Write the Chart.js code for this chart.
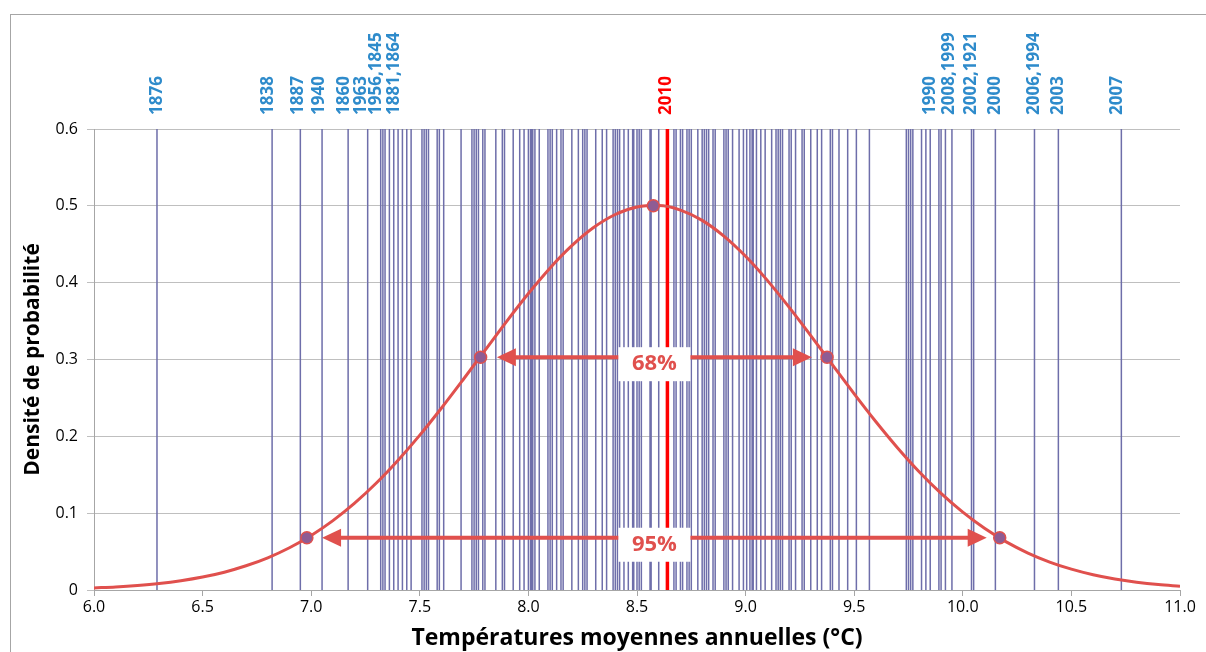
<!DOCTYPE html>
<html>
<head>
<meta charset="utf-8">
<script src="https://cdn.jsdelivr.net/npm/chart.js@4.4.1/dist/chart.umd.min.js"></script>
<style>
  html, body { margin: 0; padding: 0; background: #fff; }
  #wrap { width: 1206px; height: 652px; }
</style>
</head>
<body>
<div id="wrap"><canvas id="myChart" width="1206" height="652"></canvas></div>
<script>
// annual mean temperatures (one vertical line per year)
var yearTemps = [
  6.29, 6.82, 6.95, 7.05, 7.17, 7.26,
  7.32, 7.33, 7.34, 7.36, 7.38, 7.40, 7.42, 7.44, 7.46, 7.51, 7.52, 7.53, 7.54,
  7.58, 7.59, 7.61, 7.69,
  7.74, 7.75, 7.76, 7.77, 7.79, 7.80, 7.85, 7.88, 7.89, 7.93, 7.96, 7.98, 8.00,
  8.01, 8.015, 8.02, 8.03, 8.05, 8.09, 8.10, 8.11, 8.13, 8.15, 8.16, 8.20, 8.23,
  8.25, 8.26, 8.27, 8.31, 8.34, 8.36, 8.39, 8.40, 8.41, 8.42, 8.44, 8.46, 8.48,
  8.485, 8.50, 8.51, 8.52, 8.56, 8.565, 8.60, 8.67, 8.68, 8.70, 8.71, 8.73, 8.74,
  8.75, 8.78, 8.80, 8.81, 8.82, 8.83, 8.85, 8.86, 8.90, 8.91, 8.92, 8.94, 8.97,
  8.99, 9.005, 9.02, 9.03, 9.035, 9.05, 9.07, 9.09, 9.12, 9.14, 9.15, 9.16, 9.17,
  9.20, 9.21, 9.23, 9.26, 9.27, 9.30, 9.33, 9.35, 9.39, 9.40, 9.43, 9.47, 9.51,
  9.57, 9.74, 9.75, 9.76, 9.77, 9.81, 9.83, 9.85, 9.89, 9.90, 9.92, 9.95, 10.04,
  10.05, 10.15, 10.33, 10.44, 10.73
];
var temp2010 = 8.64;

// year labels at the top
var yearLabels = ['1876', '1838', '1887', '1940', '1860', '1963', '1956,1845', '1881,1864',
  '2010', '1990', '2008,1999', '2002,1921', '2000', '2006,1994', '2003', '2007'];
var yearLabelX = [6.29, 6.80, 6.94, 7.035, 7.15, 7.23, 7.30, 7.38,
  8.635, 9.85, 9.935, 10.04, 10.15, 10.33, 10.44, 10.71];

// normal density curve
var curveX = [6.0, 6.1, 6.2, 6.3, 6.4, 6.5, 6.6, 6.7, 6.8, 6.9, 7.0, 7.1, 7.2, 7.3, 7.4,
  7.5, 7.6, 7.7, 7.8, 7.9, 8.0, 8.1, 8.2, 8.3, 8.4, 8.5, 8.6, 8.7, 8.8, 8.9, 9.0,
  9.1, 9.2, 9.3, 9.4, 9.5, 9.6, 9.7, 9.8, 9.9, 10.0, 10.1, 10.2, 10.3, 10.4, 10.5,
  10.6, 10.7, 10.8, 10.9, 11.0];
var curveY = [0.0027, 0.0040, 0.0059, 0.0085, 0.0121, 0.0169, 0.0232, 0.0315, 0.0419,
  0.0550, 0.0710, 0.0903, 0.1130, 0.1392, 0.1689, 0.2016, 0.2369, 0.2740, 0.3119,
  0.3497, 0.3859, 0.4192, 0.4481, 0.4717, 0.4887, 0.4984, 0.5003, 0.4945, 0.4811,
  0.4606, 0.4343, 0.4030, 0.3681, 0.3310, 0.2930, 0.2553, 0.2190, 0.1849, 0.1536,
  0.1257, 0.1013, 0.0803, 0.0626, 0.0481, 0.0364, 0.0271, 0.0198, 0.0143, 0.0102,
  0.0071, 0.0049];

// mean, mean +/- 1 sd, mean +/- 2 sd
var markX = [6.98, 7.78, 8.575, 9.375, 10.17];
var markY = [0.068, 0.303, 0.500, 0.303, 0.068];

// arrows (68% and 95% intervals)
var arrowText = ['68%', '95%'];
var arrowY = [0.303, 0.068];
var arrowFrom = [7.855, 7.05];
var arrowTo = [9.305, 10.11];

var red = '#E0504D';
var blue = '#2E8BCB';

var lineData = [];
yearTemps.forEach(function(t) {
    lineData.push({x: t, y: 0}, {x: t, y: 0.6}, {x: t, y: null});
});

var curveData = curveX.map(function(x, i) { return {x: x, y: curveY[i]}; });
var markData = markX.map(function(x, i) { return {x: x, y: markY[i]}; });

var frame = {
    id: 'frame',
    beforeDraw: function(chart) {
        var ctx = chart.ctx;
        ctx.save();
        ctx.fillStyle = '#fff';
        ctx.fillRect(0, 0, chart.width, chart.height);
        ctx.strokeStyle = '#a6a6a6';
        ctx.lineWidth = 1;
        ctx.strokeRect(10.5, 14.5, 1400, 700);
        ctx.restore();
    }
};

var extras = {
    id: 'extras',
    afterDatasetsDraw: function(chart) {
        var ctx = chart.ctx;
        var xs = chart.scales.x, ys = chart.scales.y;
        ctx.save();
        // arrows
        for (var i = 0; i < arrowText.length; i++) {
            var y = ys.getPixelForValue(arrowY[i]);
            var x1 = xs.getPixelForValue(arrowFrom[i]);
            var x2 = xs.getPixelForValue(arrowTo[i]);
            var head = 19, half = 9;
            ctx.strokeStyle = red;
            ctx.fillStyle = red;
            ctx.lineWidth = 4;
            ctx.beginPath();
            ctx.moveTo(x1 + head - 2, y);
            ctx.lineTo(x2 - head + 2, y);
            ctx.stroke();
            ctx.beginPath();
            ctx.moveTo(x1, y);
            ctx.lineTo(x1 + head, y - half);
            ctx.lineTo(x1 + head, y + half);
            ctx.closePath();
            ctx.fill();
            ctx.beginPath();
            ctx.moveTo(x2, y);
            ctx.lineTo(x2 - head, y - half);
            ctx.lineTo(x2 - head, y + half);
            ctx.closePath();
            ctx.fill();
            // label box
            var cx = (x1 + x2) / 2;
            var cy = y + 7;
            ctx.fillStyle = '#fff';
            ctx.fillRect(cx - 36, cy - 17, 72, 34);
            ctx.fillStyle = red;
            ctx.font = 'bold 22px "Open Sans"';
            ctx.textAlign = 'center';
            ctx.textBaseline = 'middle';
            ctx.fillText(arrowText[i], cx, cy);
        }
        ctx.restore();
    },
    afterDraw: function(chart) {
        var ctx = chart.ctx;
        var xs = chart.scales.x;
        ctx.save();
        ctx.font = 'bold 17px "Open Sans"';
        ctx.textAlign = 'left';
        ctx.textBaseline = 'middle';
        yearLabels.forEach(function(txt, i) {
            var x = xs.getPixelForValue(yearLabelX[i]);
            ctx.save();
            ctx.translate(x, 115);
            ctx.rotate(-Math.PI / 2);
            ctx.fillStyle = txt === '2010' ? '#FF0000' : blue;
            ctx.fillText(txt, 0, 0);
            ctx.restore();
        });
        ctx.restore();
    }
};

var config = {
    type: 'line',
    data: {
        datasets: [{
            label: 'Années',
            data: lineData,
            borderColor: '#6E6EAA',
            borderWidth: 1.5,
            pointRadius: 0,
            spanGaps: false,
            order: 4
        }, {
            label: '2010',
            data: [{x: temp2010, y: 0}, {x: temp2010, y: 0.6}],
            borderColor: '#FF0000',
            borderWidth: 3.5,
            pointRadius: 0,
            order: 3
        }, {
            label: 'Densité',
            data: curveData,
            borderColor: red,
            borderWidth: 3,
            pointRadius: 0,
            tension: 0.4,
            cubicInterpolationMode: 'monotone',
            order: 2
        }, {
            label: 'Points',
            data: markData,
            showLine: false,
            pointRadius: 6,
            pointBackgroundColor: '#8E5C94',
            pointBorderColor: red,
            pointBorderWidth: 1.5,
            order: 1
        }]
    },
    options: {
        responsive: false,
        animation: false,
        devicePixelRatio: 1,
        layout: { padding: { left: 0, top: 129, right: 26, bottom: 0 } },
        plugins: { legend: { display: false }, tooltip: { enabled: false } },
        scales: {
            x: {
                type: 'linear',
                min: 6,
                max: 11,
                afterFit: function(scale) { scale.height = 62; },
                ticks: {
                    stepSize: 0.5,
                    padding: 2,
                    color: '#000',
                    font: { family: 'Open Sans', size: 16 },
                    maxRotation: 0,
                    callback: function(v) { return v.toFixed(1); }
                },
                grid: { drawOnChartArea: false, drawTicks: true, tickLength: 6, color: '#a6a6a6' },
                border: { color: '#a6a6a6' },
                title: {
                    display: true,
                    text: 'Températures moyennes annuelles (°C)',
                    color: '#000',
                    font: { family: 'Open Sans', size: 23, weight: 'bold' },
                    padding: { top: 0, bottom: 0 }
                }
            },
            y: {
                min: 0,
                max: 0.6,
                afterFit: function(scale) { scale.width = 94; },
                ticks: {
                    stepSize: 0.1,
                    padding: 9,
                    color: '#000',
                    font: { family: 'Open Sans', size: 16 },
                    callback: function(v) { return v === 0 ? '0' : v.toFixed(1); }
                },
                grid: { color: '#bfbfbf', tickLength: 7 },
                border: { color: '#a6a6a6' },
                title: {
                    display: true,
                    text: 'Densité de probabilité',
                    color: '#000',
                    font: { family: 'Open Sans', size: 21, weight: 'bold' },
                    padding: { top: 20, bottom: 0 }
                }
            }
        }
    },
    plugins: [frame, extras]
};

var myChart = new Chart(document.getElementById('myChart'), config);
</script>
</body>
</html>
